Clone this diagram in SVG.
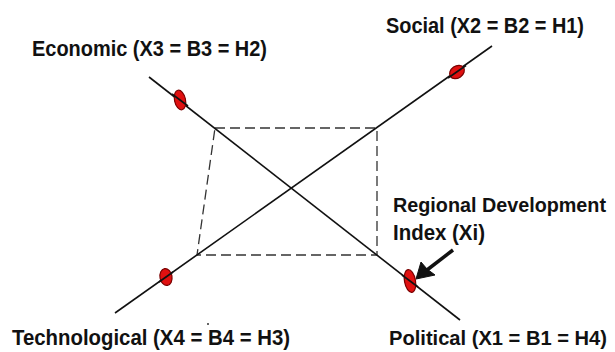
<svg xmlns="http://www.w3.org/2000/svg" width="615" height="352" viewBox="0 0 615 352">
<style>
.lbl{font-family:"Liberation Sans",Arial,sans-serif;font-weight:bold;font-size:21.5px;fill:#111}
.rt{font-size:20px}
.axis{stroke:#111;stroke-width:1.6;fill:none}
.dash{stroke:#333;stroke-width:1.3;stroke-dasharray:10 5;fill:none}
.pt{fill:#e01010;stroke:#7a0000;stroke-width:1.2}
</style>
<rect width="615" height="352" fill="#fff"/>
<g id="connectors">
<polygon class="dash" points="215,128 377,128 377,255 197,255"/>
<line class="axis" x1="149" y1="77" x2="460" y2="320"/>
<line class="axis" x1="115" y1="313" x2="492" y2="46"/>
<g id="arrow">
<line x1="453" y1="250" x2="427" y2="270" stroke="#111" stroke-width="3.5"/>
<polygon points="416,279 421,262 427,269 435,275" fill="#111" stroke="#111" stroke-width="1" stroke-linejoin="round"/>
</g>
</g>
<g id="economic">
<ellipse class="pt" cx="180" cy="100" rx="5.5" ry="10" transform="rotate(-12 180 100)"/>
<line class="axis" x1="172" y1="94" x2="188" y2="106"/>
<text class="lbl" x="32" y="56" textLength="235" lengthAdjust="spacingAndGlyphs">Economic (X3 = B3 = H2)</text>
</g>
<g id="social">
<ellipse class="pt" cx="457" cy="72" rx="8" ry="6" transform="rotate(-35 457 72)"/>
<line class="axis" x1="448" y1="78" x2="466" y2="65.5"/>
<text class="lbl" x="386" y="33" textLength="198" lengthAdjust="spacingAndGlyphs">Social (X2 = B2 = H1)</text>
</g>
<g id="technological">
<ellipse class="pt" cx="166" cy="277" rx="6" ry="8.5" transform="rotate(-10 166 277)"/>
<line class="axis" x1="159" y1="282" x2="173" y2="272"/>
<text class="lbl" x="12" y="345" textLength="278" lengthAdjust="spacingAndGlyphs">Technological (X4 = B4 = H3)</text>
<circle cx="208" cy="324" r="1" fill="#333"/>
</g>
<g id="political">
<ellipse class="pt" cx="410" cy="281" rx="5.5" ry="11.5" transform="rotate(-10 410 281)"/>
<line class="axis" x1="402" y1="275" x2="418" y2="287"/>
<text class="lbl rt" x="389" y="345" textLength="218" lengthAdjust="spacingAndGlyphs">Political (X1 = B1 = H4)</text>
</g>
<g id="index">
<text class="lbl rt" x="393" y="212" textLength="213" lengthAdjust="spacingAndGlyphs">Regional Development</text>
<text class="lbl" x="393" y="240" textLength="92" lengthAdjust="spacingAndGlyphs">Index (Xi)</text>
</g>
</svg>
